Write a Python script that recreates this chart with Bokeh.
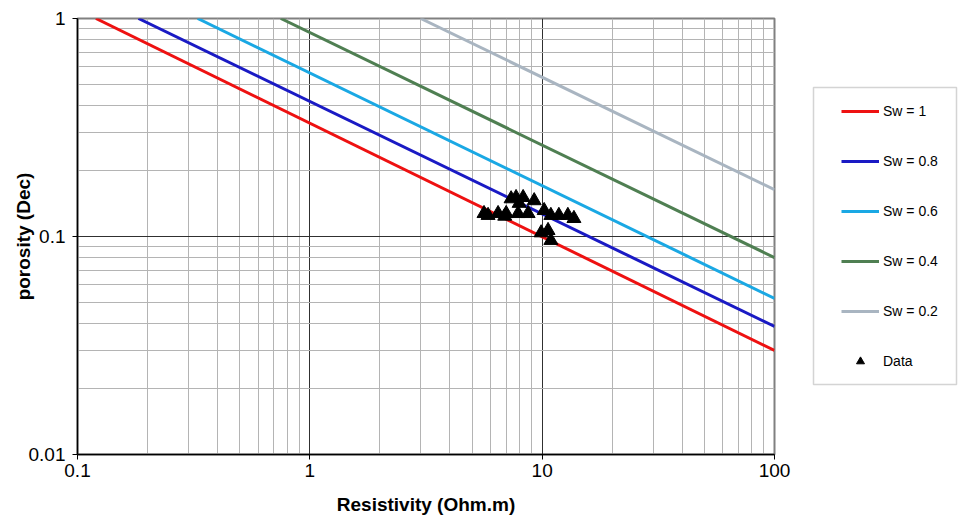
from bokeh.plotting import figure
from bokeh.layouts import row
from bokeh.models import Range1d, FixedTicker, Legend, LegendItem, ColumnDataSource, BoxAnnotation
from bokeh.embed import file_html
from bokeh.resources import INLINE

# Pickett-plot lines: each straight in log-log, from (rt_start, phi=1) to (rt=100, phi_end)
sw_labels = ["Sw = 1", "Sw = 0.8", "Sw = 0.6", "Sw = 0.4", "Sw = 0.2"]
rt_start = [0.12, 0.183, 0.329, 0.75, 3.0]
phi_start = [1.0, 1.0, 1.0, 1.0, 1.0]
rt_end = [100, 100, 100, 100, 100]
phi_end = [0.030, 0.0387, 0.052, 0.080, 0.164]
line_colors = ["#ee1111", "#1a1ac4", "#1aa8e4", "#4f7f52", "#a9b5c1"]

# Measured data
data_rt = [5.62, 5.85, 6.46, 7.0, 7.35, 7.72, 8.28, 7.96, 9.24, 7.88, 8.7,
           10.2, 10.9, 11.8, 12.9, 13.7, 9.9, 10.6, 10.9, 6.9]
data_phi = [0.1275, 0.125, 0.1275, 0.1275, 0.149, 0.151, 0.151, 0.142, 0.146,
            0.1275, 0.1275, 0.1316, 0.125, 0.125, 0.125, 0.121, 0.104, 0.1066,
            0.096, 0.124]

x_major = [0.1, 1, 10, 100]
y_major = [0.01, 0.1, 1]
x_minor = [k * 10.0 ** e for e in range(-1, 2) for k in range(2, 10)]
y_minor = [k * 10.0 ** e for e in range(-2, 0) for k in range(2, 10)]

FONT = "Liberation Sans"

p = figure(width=800, height=520, x_axis_type="log", y_axis_type="log",
           x_range=Range1d(0.1, 100), y_range=Range1d(0.01, 1),
           output_backend="svg", toolbar_location=None,
           min_border_left=77, min_border_right=26,
           min_border_top=18, min_border_bottom=66)
p.outline_line_color = "#808080"
p.outline_line_width = 2
p.background_fill_color = "white"
p.border_fill_color = "white"

for lab, x0, y0, x1, y1, c in zip(sw_labels, rt_start, phi_start, rt_end, phi_end, line_colors):
    p.line([x0, x1], [y0, y1], line_color=c, line_width=3)

src = ColumnDataSource(dict(x=data_rt, y=data_phi))
p.scatter("x", "y", source=src, marker="triangle", size=14,
          fill_color="black", line_color="black")

for ax, major, minor in ((p.xaxis[0], x_major, x_minor), (p.yaxis[0], y_major, y_minor)):
    ax.ticker = FixedTicker(ticks=major, minor_ticks=minor)
    ax.major_label_overrides = {t: (str(t) if t < 1 else str(int(t))) for t in major}
    ax.axis_line_color = "black"
    ax.axis_line_width = 1.5
    ax.major_tick_line_color = "black"
    ax.major_tick_out = 5
    ax.major_tick_in = 0
    ax.minor_tick_line_color = None
    ax.major_label_text_font = FONT
    ax.major_label_text_font_size = "19px"
    ax.major_label_text_color = "black"
    ax.axis_label_text_font = FONT
    ax.axis_label_text_font_style = "bold"
    ax.axis_label_text_font_size = "19px"
    ax.axis_label_text_color = "black"

p.xaxis.axis_label = "Resistivity (Ohm.m)"
p.yaxis.axis_label = "porosity (Dec)"
p.xaxis.major_label_standoff = 4
p.yaxis.major_label_standoff = 7
p.xaxis.axis_label_standoff = 14
p.yaxis.axis_label_standoff = -8

for g in (p.xgrid[0], p.ygrid[0]):
    g.grid_line_color = "#303030"
    g.grid_line_width = 1
    g.minor_grid_line_color = "#b4b4b4"
    g.minor_grid_line_width = 1

# Legend panel (separate figure right of the plot). Its range is pixel-like
# (x offset by 1000 so the series themselves stay off-screen; only the legend shows).
q = figure(width=158, height=520, x_range=Range1d(1000, 1158), y_range=Range1d(0, 436),
           output_backend="svg", toolbar_location=None,
           x_axis_location=None, y_axis_location=None,
           min_border_left=0, min_border_right=0, min_border_top=0, min_border_bottom=0)
q.grid.visible = False
q.outline_line_color = None
items = []
for lab, x0, y0, x1, y1, c in zip(sw_labels, rt_start, phi_start, rt_end, phi_end, line_colors):
    r = q.line([x0, x1], [y0, y1], line_color=c, line_width=3)
    items.append(LegendItem(label=lab, renderers=[r]))
rd = q.scatter(data_rt, data_phi, marker="triangle", size=10,
               fill_color="black", line_color="black")
items.append(LegendItem(label="Data", renderers=[rd]))

q.add_layout(BoxAnnotation(left=1013, right=1156, bottom=70, top=367,
                           fill_alpha=0, line_color="#707070", line_width=1.5))

legend = Legend(items=items, location=(41, 83), orientation="vertical",
                label_text_font=FONT, label_text_font_size="14px",
                label_text_color="black",
                glyph_width=38, glyph_height=20, label_height=20, label_width=62,
                spacing=30, padding=14, label_standoff=4,
                border_line_color=None,
                background_fill_alpha=0.0,
                margin=0)
q.add_layout(legend, "center")

layout = row(p, q, spacing=0)
open("out.html", "w").write(file_html(layout, INLINE))
